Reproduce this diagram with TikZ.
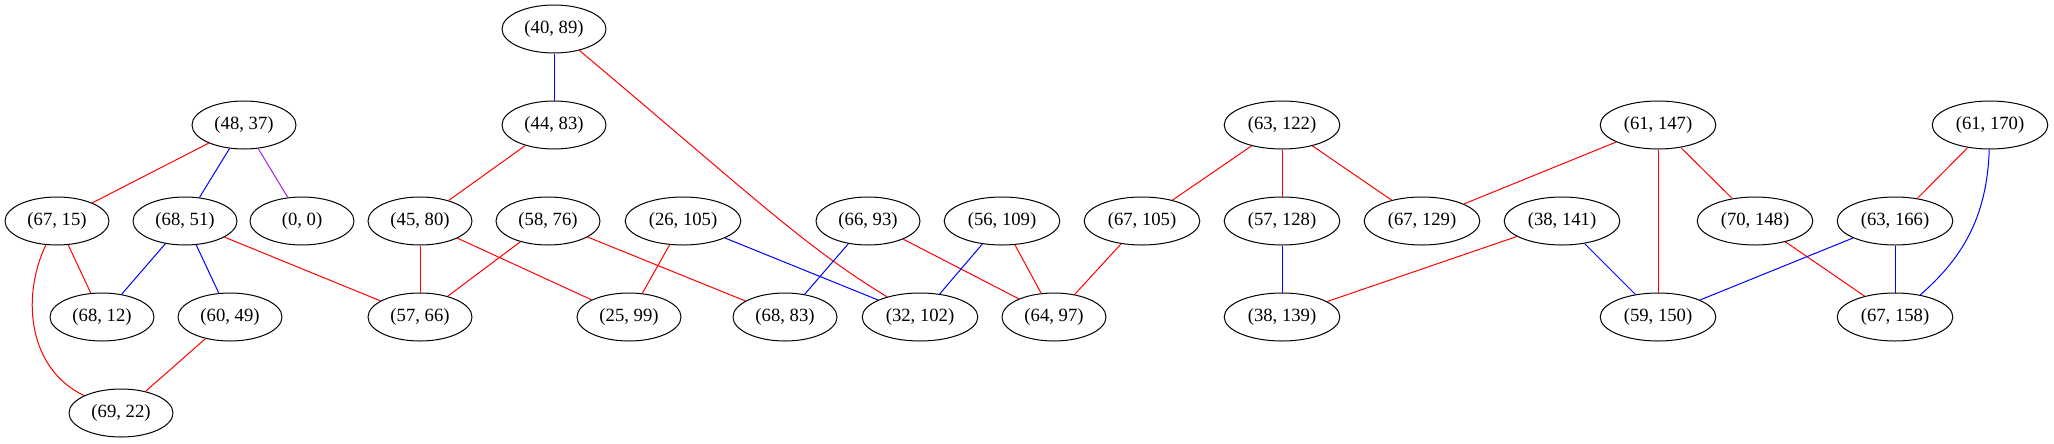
\documentclass[tikz,border=0pt]{standalone}
\usepackage{fontspec}
\setmainfont{Liberation Serif}
\usetikzlibrary{shapes.geometric}
\definecolor{gvpurple}{HTML}{A020F0}
\begin{document}
\begin{tikzpicture}[x=0.75pt,y=-0.75pt,
  vtx/.style={draw=black,line width=0.75pt,ellipse,minimum width=78pt,minimum height=36pt,inner xsep=5pt,inner ysep=2pt,font=\fontsize{14}{16}\selectfont},
  rd/.style={draw=red,line width=0.75pt},
  bl/.style={draw=blue,line width=0.75pt},
  pp/.style={draw=gvpurple,line width=0.75pt}]
\useasboundingbox (0,0) rectangle (2054,443);
% row 0
\node[vtx] (n4089) at (554,29) {(40, 89)};
% row 1
\node[vtx] (n4437) at (244,125) {(48, 37)};
\node[vtx] (n4483) at (554,125) {(44, 83)};
\node[vtx] (n63122) at (1282,125) {(63, 122)};
\node[vtx] (n61147) at (1658,125) {(61, 147)};
\node[vtx] (n61170) at (1990,125) {(61, 170)};
% row 2
\node[vtx] (n6715) at (57,221) {(67, 15)};
\node[vtx] (n6851) at (185,221) {(68, 51)};
\node[vtx] (n00) at (302,221) {(0, 0)};
\node[vtx] (n4580) at (420,221) {(45, 80)};
\node[vtx] (n5876) at (548,221) {(58, 76)};
\node[vtx] (n26105) at (683,221) {(26, 105)};
\node[vtx] (n6693) at (868,221) {(66, 93)};
\node[vtx] (n56109) at (1002,221) {(56, 109)};
\node[vtx] (n67105) at (1142,221) {(67, 105)};
\node[vtx] (n57128) at (1282,221) {(57, 128)};
\node[vtx] (n67129) at (1422,221) {(67, 129)};
\node[vtx] (n38141) at (1562,221) {(38, 141)};
\node[vtx] (n70148) at (1755,221) {(70, 148)};
\node[vtx] (n63166) at (1895,221) {(63, 166)};
% row 3
\node[vtx] (n6812) at (102,317) {(68, 12)};
\node[vtx] (n6049) at (230,317) {(60, 49)};
\node[vtx] (n5766) at (420,317) {(57, 66)};
\node[vtx] (n2599) at (629,317) {(25, 99)};
\node[vtx] (n6883) at (785,317) {(68, 83)};
\node[vtx] (n32102) at (920,317) {(32, 102)};
\node[vtx] (n6497) at (1054,317) {(64, 97)};
\node[vtx] (n38139) at (1282,317) {(38, 139)};
\node[vtx] (n59150) at (1658,317) {(59, 150)};
\node[vtx] (n67158) at (1895,317) {(67, 158)};
% row 4
\node[vtx] (n6922) at (121,413) {(69, 22)};
% edges
\draw[bl] (n4089) -- (n4483);
\draw[rd] (n4089) .. controls (757,200) and (804,246) .. (n32102);
\draw[rd] (n4437) -- (n6715);
\draw[bl] (n4437) -- (n6851);
\draw[pp] (n4437) -- (n00);
\draw[rd] (n4483) -- (n4580);
\draw[rd] (n6715) -- (n6812);
\draw[rd] (n6715) .. controls (20,300) and (30,370) .. (n6922);
\draw[bl] (n6851) -- (n6812);
\draw[bl] (n6851) -- (n6049);
\draw[rd] (n6851) -- (n5766);
\draw[rd] (n6049) -- (n6922);
\draw[rd] (n4580) -- (n5766);
\draw[rd] (n4580) -- (n2599);
\draw[rd] (n5876) -- (n5766);
\draw[rd] (n5876) -- (n6883);
\draw[rd] (n26105) -- (n2599);
\draw[bl] (n26105) -- (n32102);
\draw[bl] (n6693) -- (n6883);
\draw[rd] (n6693) -- (n6497);
\draw[bl] (n56109) -- (n32102);
\draw[rd] (n56109) -- (n6497);
\draw[rd] (n63122) -- (n67105);
\draw[rd] (n63122) -- (n57128);
\draw[rd] (n63122) -- (n67129);
\draw[rd] (n67105) -- (n6497);
\draw[bl] (n57128) -- (n38139);
\draw[rd] (n61147) -- (n67129);
\draw[rd] (n61147) -- (n59150);
\draw[rd] (n61147) -- (n70148);
\draw[rd] (n38141) -- (n38139);
\draw[bl] (n38141) -- (n59150);
\draw[rd] (n70148) -- (n67158);
\draw[rd] (n61170) -- (n63166);
\draw[bl] (n61170) .. controls (1987,220) and (1960,260) .. (n67158);
\draw[bl] (n63166) -- (n59150);
\draw[bl] (n63166) -- (n67158);
\end{tikzpicture}
\end{document}
